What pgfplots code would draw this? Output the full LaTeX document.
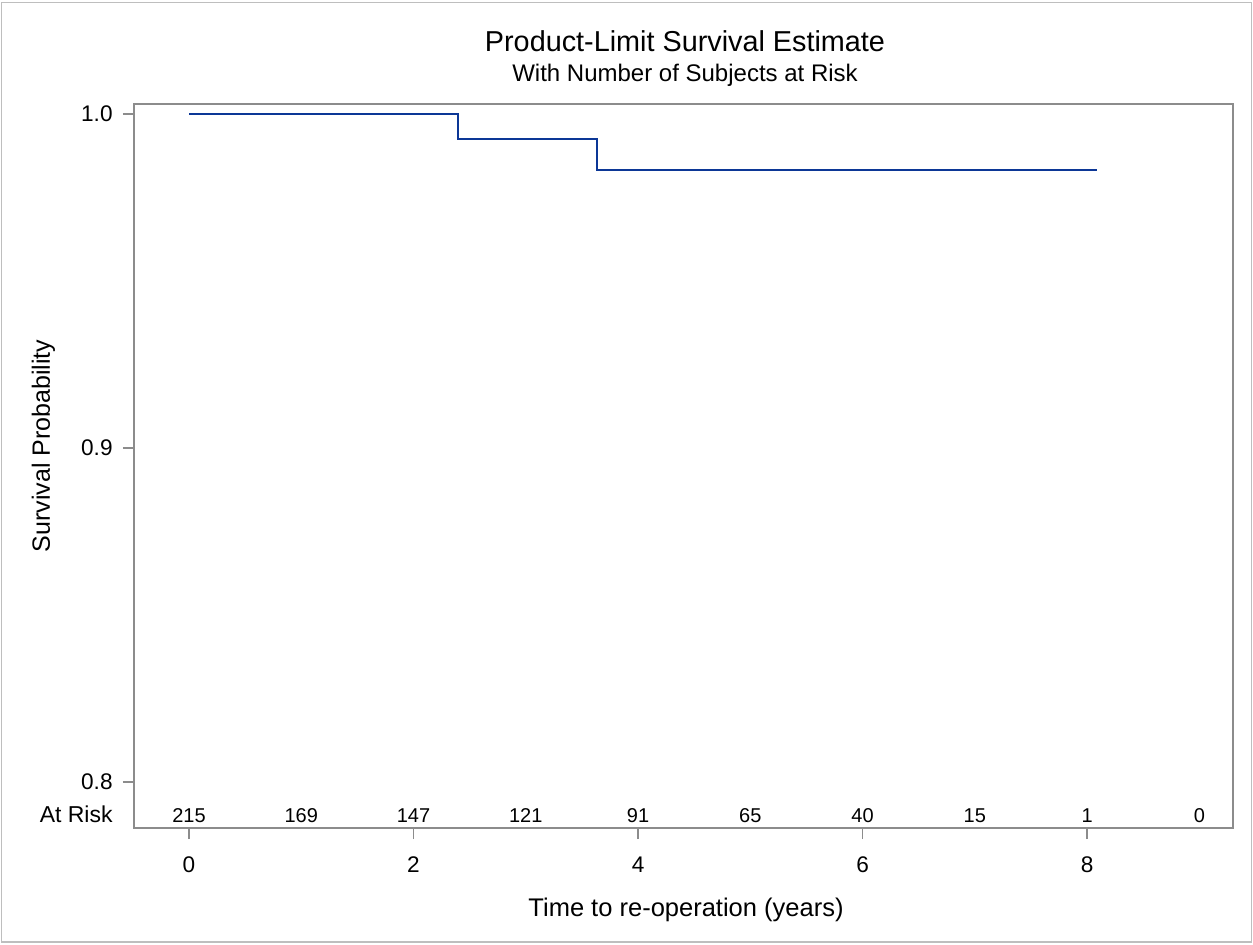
\documentclass[border=0pt]{standalone}
\usepackage{fontspec}
\setmainfont{Liberation Sans}
\usepackage{pgfplots}
\usepackage{pgfplotstable}
\pgfplotsset{compat=1.18}
\definecolor{framegray}{RGB}{140,140,140}
\definecolor{bordergray}{RGB}{190,190,190}
\definecolor{kmblue}{RGB}{12,55,150}
\pgfplotstableread{
x y n
0 0.78802 215
1 0.78802 169
2 0.78802 147
3 0.78802 121
4 0.78802 91
5 0.78802 65
6 0.78802 40
7 0.78802 15
8 0.78802 1
9 0.78802 0
}\atrisk
\begin{document}
\begin{tikzpicture}
\useasboundingbox (-67pt,-58pt) rectangle (559.5pt,414pt);
\draw[bordergray, line width=0.8pt] (-66.2pt,-57pt) rectangle (558.8pt,412.8pt);
\begin{axis}[
 at={(0pt,0pt)}, anchor=south west,
 scale only axis, width=549.5pt, height=362pt,
 xmin=-0.49, xmax=9.30, ymin=0.78623, ymax=1.00299,
 axis line style={framegray, line width=0.7pt},
 tick align=outside, tick style={framegray, line width=0.6pt}, major tick length=5.5pt,
 xtick pos=bottom, ytick pos=left,
 xtick={0,2,4,6,8}, ytick={0.8,0.9,1.0},
 /pgf/number format/assume math mode=true,
 yticklabel style={/pgf/number format/.cd, fixed, fixed zerofill, precision=1, /tikz/.cd},
 tick label style={font=\fontsize{11.3}{13}\selectfont},
 xticklabel style={anchor=base, inner sep=0pt, yshift=-16.5pt},
 yticklabel style={anchor=east, inner sep=0pt, xshift=-5pt},
 clip=false,
]
\addplot[kmblue, line width=1pt, const plot] coordinates {(0,1) (2.40,0.9925) (3.63,0.9832) (8.09,0.9832)};
\addplot[draw=none, mark=none, nodes near coords, point meta=explicit symbolic,
  nodes near coords style={anchor=base, text=black, inner sep=0pt, font=\fontsize{10}{12}\selectfont}]
  table[x=x, y=y, meta=n] {\atrisk};
\end{axis}
\node[anchor=base east, inner sep=0pt, font=\fontsize{11.5}{13}\selectfont] at (-10.5pt,3pt) {At Risk};
\node[anchor=base, inner sep=0pt, font=\fontsize{14.4}{16}\selectfont] at (275.5pt,388pt) {Product-Limit Survival Estimate};
\node[anchor=base, inner sep=0pt, font=\fontsize{12}{14}\selectfont] at (275.5pt,373pt) {With Number of Subjects at Risk};
\node[anchor=base, inner sep=0pt, font=\fontsize{12.75}{14}\selectfont] at (276pt,-44pt) {Time to re-operation (years)};
\node[anchor=base, rotate=90, inner sep=0pt, font=\fontsize{12.5}{14}\selectfont] at (-42pt,191pt) {Survival Probability};
\end{tikzpicture}
\end{document}
